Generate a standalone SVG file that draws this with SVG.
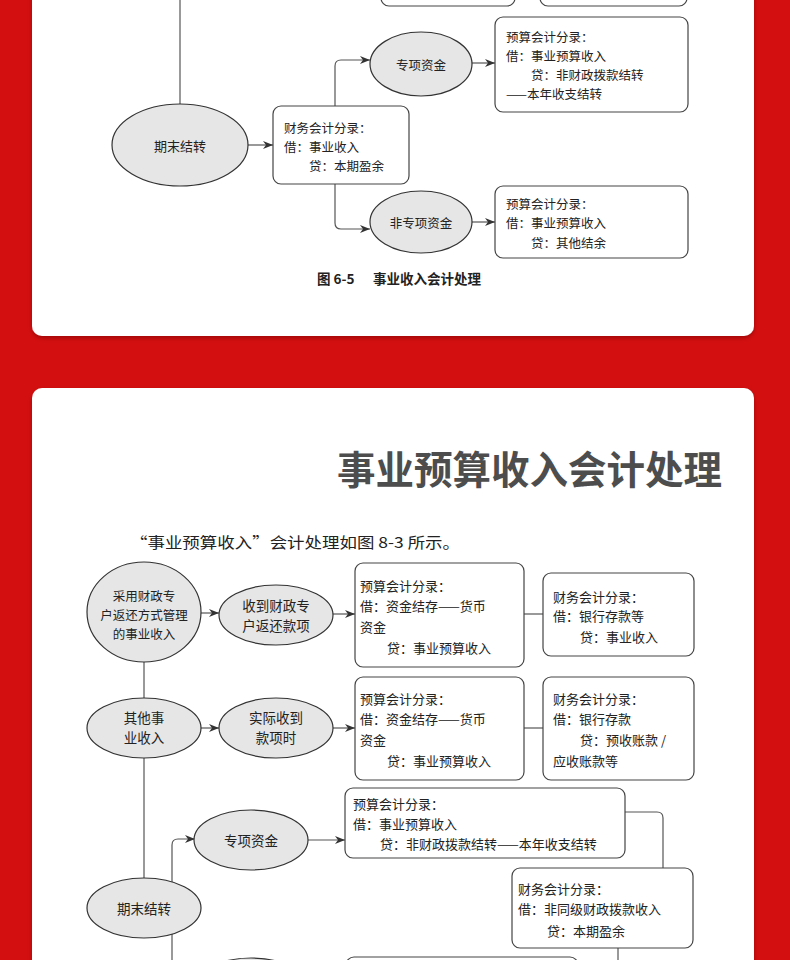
<svg xmlns="http://www.w3.org/2000/svg" width="790" height="960" viewBox="0 0 790 960">
<style>
text{font-family:"Noto Sans CJK SC","Noto Sans",sans-serif;fill:#222;}
.t{font-size:12.5px;dominant-baseline:central;}
.t2{font-size:13px;dominant-baseline:central;}
.et{font-size:13.5px;dominant-baseline:central;text-anchor:middle;}
.el{fill:#e6e6e6;stroke:#333;stroke-width:1.2;}
.bx{fill:#fff;stroke:#444;stroke-width:1.2;}
.ln{fill:none;stroke:#555;stroke-width:1.2;}
.card{fill:#fff;}
</style>
<defs>
<marker id="ar" viewBox="0 0 10 8" refX="10" refY="4" markerWidth="10" markerHeight="8" markerUnits="userSpaceOnUse" orient="auto">
<path d="M0,0 L10,4 L0,8 L3,4 z" fill="#333"/>
</marker>
<filter id="sh" x="-5%" y="-5%" width="110%" height="115%">
<feDropShadow dx="0" dy="2" stdDeviation="2" flood-color="#600" flood-opacity="0.5"/>
</filter>
</defs>
<rect x="0" y="0" width="790" height="960" fill="#d40f10"/>
<rect class="card" x="32" y="-20" width="722" height="356" rx="10" filter="url(#sh)"/>
<rect class="card" x="32" y="388" width="722" height="600" rx="10" filter="url(#sh)"/>

<g id="connectors">
<line class="ln" x1="180" y1="-2" x2="180" y2="104"/>
<line class="ln" x1="248" y1="145" x2="273" y2="145" marker-end="url(#ar)"/>
<path class="ln" d="M335,106 V66 Q335,60 341,60 H370" marker-end="url(#ar)"/>
<path class="ln" d="M335,184 V223 Q335,229 341,229 H370" marker-end="url(#ar)"/>
<line class="ln" x1="472" y1="63" x2="495" y2="63" marker-end="url(#ar)"/>
<line class="ln" x1="472" y1="222" x2="495" y2="222" marker-end="url(#ar)"/>

<line class="ln" x1="200" y1="613" x2="219" y2="613" marker-end="url(#ar)"/>
<line class="ln" x1="333" y1="614" x2="355" y2="614" marker-end="url(#ar)"/>
<line class="ln" x1="524" y1="614" x2="543" y2="614"/>
<line class="ln" x1="144" y1="662" x2="144" y2="698"/>
<line class="ln" x1="200" y1="728" x2="219" y2="728" marker-end="url(#ar)"/>
<line class="ln" x1="333" y1="728" x2="355" y2="728" marker-end="url(#ar)"/>
<line class="ln" x1="524" y1="728" x2="543" y2="728"/>
<line class="ln" x1="144" y1="758" x2="144" y2="878"/>
<path class="ln" d="M172,882 V845 Q172,839 178,839 H195" marker-end="url(#ar)"/>
<line class="ln" x1="308" y1="840" x2="345" y2="840" marker-end="url(#ar)"/>
<path class="ln" d="M625,812 H657 Q663,812 663,818 V868"/>
<line class="ln" x1="172" y1="934" x2="172" y2="962"/>
<line class="ln" x1="618" y1="948" x2="618" y2="962"/>
</g>

<g id="top-box-a"><rect class="bx" x="381" y="-30" width="134" height="36" rx="8"/></g>
<g id="top-box-b"><rect class="bx" x="540" y="-30" width="147" height="36" rx="8"/></g>

<g id="n-qimo1">
<ellipse class="el" cx="180" cy="145" rx="68" ry="41"/>
<text class="et" x="180" y="145" style="font-size:13px">期末结转</text>
</g>
<g id="n-caiwu1">
<rect class="bx" x="273" y="106" width="136" height="78" rx="8"/>
<text class="t" x="284" y="127">财务会计分录：</text>
<text class="t" x="284" y="146">借：事业收入</text>
<text class="t" x="309" y="165">贷：本期盈余</text>
</g>
<g id="n-zx1">
<ellipse class="el" cx="421" cy="64" rx="51" ry="32"/>
<text class="et" x="421" y="64" style="font-size:12.5px">专项资金</text>
</g>
<g id="n-yusuan1">
<rect class="bx" x="495" y="17" width="193" height="95" rx="8"/>
<text class="t" x="506" y="36">预算会计分录：</text>
<text class="t" x="506" y="55">借：事业预算收入</text>
<text class="t" x="531" y="74">贷：非财政拨款结转</text>
<text class="t" x="506" y="93">——本年收支结转</text>
</g>
<g id="n-fzx1">
<ellipse class="el" cx="421" cy="222" rx="51" ry="31"/>
<text class="et" x="421" y="222" style="font-size:12.5px">非专项资金</text>
</g>
<g id="n-yusuan2">
<rect class="bx" x="495" y="186" width="193" height="72" rx="8"/>
<text class="t" x="506" y="203">预算会计分录：</text>
<text class="t" x="506" y="222">借：事业预算收入</text>
<text class="t" x="531" y="242">贷：其他结余</text>
</g>
<g id="caption1">
<text x="317" y="278" style="font-size:13.5px;font-weight:bold;dominant-baseline:central">图 6-5</text>
<text x="373" y="278" style="font-size:13.5px;font-weight:bold;dominant-baseline:central">事业收入会计处理</text>
</g>

<g id="title2">
<text x="722" y="467" text-anchor="end" style="font-size:38.5px;font-weight:bold;fill:#4d4d4d;dominant-baseline:central">事业预算收入会计处理</text>
<text x="130" y="541" textLength="330" lengthAdjust="spacingAndGlyphs" style="font-size:15px;dominant-baseline:central">“事业预算收入”会计处理如图 8-3 所示。</text>
</g>

<g id="n-caiyong">
<ellipse class="el" cx="144" cy="612" rx="57" ry="50"/>
<text class="et" x="144" y="595" style="font-size:12.5px">采用财政专</text>
<text class="et" x="144" y="614" style="font-size:12.5px">户返还方式管理</text>
<text class="et" x="144" y="633" style="font-size:12.5px">的事业收入</text>
</g>
<g id="n-shoudao">
<ellipse class="el" cx="276" cy="615" rx="57" ry="30"/>
<text class="et" x="276" y="605">收到财政专</text>
<text class="et" x="276" y="625">户返还款项</text>
</g>
<g id="n-ys-a">
<rect class="bx" x="355" y="563" width="169" height="104" rx="8"/>
<text class="t2" x="360" y="585">预算会计分录：</text>
<text class="t2" x="360" y="605">借：资金结存——货币</text>
<text class="t2" x="360" y="626">资金</text>
<text class="t2" x="387" y="647">贷：事业预算收入</text>
</g>
<g id="n-cw-a">
<rect class="bx" x="543" y="573" width="151" height="83" rx="8"/>
<text class="t2" x="553" y="596">财务会计分录：</text>
<text class="t2" x="553" y="615">借：银行存款等</text>
<text class="t2" x="580" y="636">贷：事业收入</text>
</g>
<g id="n-qita">
<ellipse class="el" cx="144" cy="728" rx="57" ry="30"/>
<text class="et" x="144" y="717">其他事</text>
<text class="et" x="144" y="737">业收入</text>
</g>
<g id="n-shiji">
<ellipse class="el" cx="276" cy="728" rx="57" ry="30"/>
<text class="et" x="276" y="717">实际收到</text>
<text class="et" x="276" y="737">款项时</text>
</g>
<g id="n-ys-b">
<rect class="bx" x="355" y="677" width="169" height="103" rx="8"/>
<text class="t2" x="360" y="698">预算会计分录：</text>
<text class="t2" x="360" y="718">借：资金结存——货币</text>
<text class="t2" x="360" y="739">资金</text>
<text class="t2" x="387" y="760">贷：事业预算收入</text>
</g>
<g id="n-cw-b">
<rect class="bx" x="543" y="677" width="151" height="103" rx="8"/>
<text class="t2" x="553" y="698">财务会计分录：</text>
<text class="t2" x="553" y="718">借：银行存款</text>
<text class="t2" x="580" y="739">贷：预收账款 /</text>
<text class="t2" x="553" y="760">应收账款等</text>
</g>
<g id="n-qimo2">
<ellipse class="el" cx="144" cy="908" rx="57" ry="30"/>
<text class="et" x="144" y="908">期末结转</text>
</g>
<g id="n-zx2">
<ellipse class="el" cx="251" cy="840" rx="57" ry="30"/>
<text class="et" x="251" y="840">专项资金</text>
</g>
<g id="n-ys-c">
<rect class="bx" x="345" y="788" width="280" height="70" rx="8"/>
<text class="t2" x="353" y="803">预算会计分录：</text>
<text class="t2" x="353" y="823">借：事业预算收入</text>
<text class="t2" x="380" y="843">贷：非财政拨款结转——本年收支结转</text>
</g>
<g id="n-cw-c">
<rect class="bx" x="512" y="868" width="181" height="80" rx="8"/>
<text class="t2" x="518" y="888">财务会计分录：</text>
<text class="t2" x="518" y="908">借：非同级财政拨款收入</text>
<text class="t2" x="547" y="930">贷：本期盈余</text>
</g>
<g id="n-fzx2"><ellipse class="el" cx="251" cy="988" rx="57" ry="30"/></g>
<g id="n-ys-d"><rect class="bx" x="346" y="957" width="232" height="60" rx="8"/></g>
</svg>
